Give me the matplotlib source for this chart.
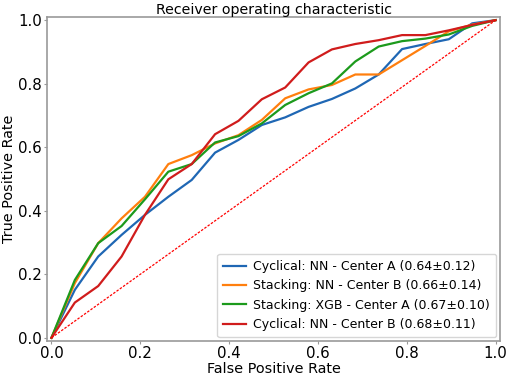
import numpy as np
import matplotlib
matplotlib.use("Agg")
import matplotlib.pyplot as plt

# mean ROC curves sampled on a 20-point FPR grid
fpr = np.linspace(0, 1, 20)

tpr_cyc_nn_a = [0.0, 0.151, 0.256, 0.324, 0.387, 0.444, 0.497, 0.583, 0.623, 0.670,
                0.694, 0.727, 0.752, 0.785, 0.829, 0.909, 0.925, 0.940, 0.990, 1.0]
tpr_stk_nn_b = [0.0, 0.172, 0.298, 0.376, 0.444, 0.547, 0.575, 0.612, 0.638, 0.686,
                0.754, 0.782, 0.796, 0.829, 0.829, 0.874, 0.919, 0.965, 0.986, 1.0]
tpr_stk_xgb_a = [0.0, 0.182, 0.298, 0.352, 0.436, 0.523, 0.547, 0.615, 0.635, 0.675,
                 0.733, 0.770, 0.801, 0.870, 0.917, 0.934, 0.942, 0.955, 0.982, 1.0]
tpr_cyc_nn_b = [0.0, 0.111, 0.163, 0.256, 0.387, 0.499, 0.547, 0.641, 0.683, 0.751,
                0.788, 0.867, 0.908, 0.925, 0.937, 0.953, 0.953, 0.968, 0.985, 1.0]

labels = [
    "Cyclical: NN - Center A (0.64±0.12)",
    "Stacking: NN - Center B (0.66±0.14)",
    "Stacking: XGB - Center A (0.67±0.10)",
    "Cyclical: NN - Center B (0.68±0.11)",
]
colors = ["#1f67b4", "#ff7f0e", "#1c9a1c", "#d01c1c"]

fig = plt.figure(figsize=(5.10, 3.76), dpi=100)
ax = fig.add_axes([0.0922, 0.0931, 0.8882, 0.8617])

for tpr, lab, col in zip([tpr_cyc_nn_a, tpr_stk_nn_b, tpr_stk_xgb_a, tpr_cyc_nn_b],
                         labels, colors):
    ax.plot(fpr, tpr, color=col, lw=1.6, label=lab)

ax.plot([0, 1], [0, 1], linestyle="--", color="red", lw=0.9, dashes=(2, 1.2))

ax.set_xlim(-0.01, 1.01)
ax.set_ylim(-0.01, 1.01)
ax.set_xticks([0, 0.2, 0.4, 0.6, 0.8, 1.0])
ax.set_yticks([0, 0.2, 0.4, 0.6, 0.8, 1.0])
ax.tick_params(labelsize=10.8, length=2, color="#999999", pad=1.5)
for s in ax.spines.values():
    s.set_color("#999999")
    s.set_linewidth(1.2)

ax.set_xlabel("False Positive Rate", fontsize=10.4, labelpad=1)
ax.set_ylabel("True Positive Rate", fontsize=10.4, labelpad=2)
ax.set_title("Receiver operating characteristic", fontsize=10.2, pad=2)
ax.legend(loc="lower right", fontsize=9.0, borderaxespad=0.3, handlelength=1.8,
          handletextpad=0.6, labelspacing=0.5, borderpad=0.5)

fig.savefig("out.png", dpi=100)
